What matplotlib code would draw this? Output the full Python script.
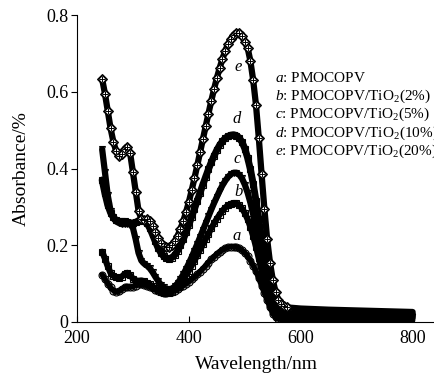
import numpy as np
import matplotlib
matplotlib.use("Agg")
import matplotlib.pyplot as plt

#%% --- Data ---

wavelength = [245, 250, 255, 260, 265, 270, 275, 280, 285, 290, 295, 300, 305, 310,
              315, 320, 325, 330, 335, 340, 345, 350, 355, 360, 365, 370, 375, 380,
              385, 390, 395, 400, 405, 410, 415, 420, 425, 430, 435, 440, 445, 450,
              455, 460, 465, 470, 475, 480, 485, 490, 495, 500, 505, 510, 515, 520,
              525, 530, 535, 540, 545, 550, 555, 560, 565, 570, 575,
              600, 650, 700, 750, 800]

abs_a = [0.123, 0.112, 0.100, 0.090, 0.082, 0.078, 0.080, 0.085, 0.090, 0.092, 0.091, 0.092,
         0.095, 0.098, 0.098, 0.097, 0.095, 0.092, 0.088, 0.084, 0.080, 0.078, 0.076, 0.076,
         0.077, 0.079, 0.082, 0.086, 0.090, 0.095, 0.100, 0.105, 0.111, 0.117, 0.124, 0.131,
         0.139, 0.147, 0.155, 0.163, 0.170, 0.177, 0.183, 0.188, 0.192, 0.195, 0.196, 0.196,
         0.195, 0.192, 0.187, 0.180, 0.172, 0.160, 0.147, 0.132, 0.114, 0.095, 0.075, 0.057,
         0.038, 0.022, 0.012, 0.008, 0.007, 0.006, 0.006,
         0.005, 0.005, 0.005, 0.004, 0.004]

abs_b = [0.183, 0.165, 0.145, 0.128, 0.120, 0.116, 0.115, 0.118, 0.125, 0.128, 0.122, 0.113,
         0.108, 0.107, 0.108, 0.106, 0.102, 0.098, 0.093, 0.088, 0.083, 0.079, 0.076, 0.075,
         0.076, 0.079, 0.085, 0.092, 0.101, 0.111, 0.122, 0.134, 0.147, 0.160, 0.174, 0.188,
         0.202, 0.216, 0.230, 0.244, 0.257, 0.269, 0.280, 0.290, 0.298, 0.304, 0.308, 0.310,
         0.309, 0.304, 0.296, 0.284, 0.268, 0.248, 0.224, 0.196, 0.166, 0.134, 0.102, 0.072,
         0.046, 0.028, 0.018, 0.014, 0.013, 0.012, 0.012,
         0.012, 0.011, 0.011, 0.010, 0.010]

abs_c = [0.450, 0.390, 0.330, 0.290, 0.270, 0.262, 0.258, 0.255, 0.255, 0.256, 0.255, 0.245,
         0.215, 0.180, 0.160, 0.152, 0.147, 0.140, 0.130, 0.118, 0.107, 0.097, 0.090, 0.086,
         0.085, 0.087, 0.093, 0.101, 0.112, 0.124, 0.138, 0.153, 0.169, 0.186, 0.203, 0.221,
         0.239, 0.257, 0.275, 0.293, 0.310, 0.326, 0.342, 0.356, 0.368, 0.378, 0.385, 0.389,
         0.389, 0.384, 0.374, 0.358, 0.337, 0.311, 0.280, 0.244, 0.205, 0.165, 0.125, 0.088,
         0.058, 0.037, 0.025, 0.020, 0.018, 0.017, 0.017,
         0.016, 0.016, 0.015, 0.015, 0.014]

abs_d = [0.370, 0.335, 0.305, 0.285, 0.273, 0.265, 0.262, 0.262, 0.262, 0.260, 0.258, 0.258,
         0.260, 0.264, 0.266, 0.265, 0.258, 0.245, 0.228, 0.210, 0.193, 0.180, 0.171, 0.166,
         0.165, 0.168, 0.175, 0.186, 0.200, 0.216, 0.234, 0.254, 0.274, 0.295, 0.316, 0.337,
         0.358, 0.378, 0.398, 0.416, 0.433, 0.448, 0.461, 0.471, 0.479, 0.484, 0.487, 0.488,
         0.486, 0.480, 0.469, 0.452, 0.428, 0.398, 0.360, 0.316, 0.268, 0.218, 0.168, 0.122,
         0.084, 0.055, 0.036, 0.027, 0.024, 0.023, 0.022,
         0.021, 0.020, 0.020, 0.019, 0.019]

abs_e = [0.633, 0.595, 0.550, 0.505, 0.470, 0.445, 0.432, 0.438, 0.450, 0.457, 0.440, 0.390,
         0.340, 0.290, 0.268, 0.266, 0.268, 0.262, 0.250, 0.235, 0.220, 0.207, 0.199, 0.195,
         0.196, 0.201, 0.211, 0.225, 0.243, 0.263, 0.287, 0.313, 0.343, 0.375, 0.408, 0.442,
         0.476, 0.510, 0.543, 0.576, 0.607, 0.636, 0.662, 0.686, 0.707, 0.724, 0.738, 0.748,
         0.753, 0.752, 0.745, 0.730, 0.715, 0.680, 0.630, 0.565, 0.480, 0.385, 0.295, 0.215,
         0.155, 0.110, 0.078, 0.057, 0.046, 0.041, 0.038,
         0.035, 0.032, 0.030, 0.028, 0.026]

curve_letters = ["a", "b", "c", "d", "e"]
legend_labels = [r"$\it{a}$: PMOCOPV",
                 r"$\it{b}$: PMOCOPV/TiO$_2$(2%)",
                 r"$\it{c}$: PMOCOPV/TiO$_2$(5%)",
                 r"$\it{d}$: PMOCOPV/TiO$_2$(10%)",
                 r"$\it{e}$: PMOCOPV/TiO$_2$(20%)"]

x_ticks = [200, 400, 600, 800]
y_ticks = [0, 0.2, 0.4, 0.6, 0.8]
y_tick_labels = ["0", "0.2", "0.4", "0.6", "0.8"]

#%% --- Style ---

plt.rcParams["font.family"] = ["Liberation Serif", "DejaVu Serif"]
plt.rcParams["mathtext.fontset"] = "custom"
plt.rcParams["mathtext.rm"] = "Liberation Serif"
plt.rcParams["mathtext.it"] = "Liberation Serif:italic"

n_dense = 67  # markers only on the densely sampled part

#%% --- Figure ---

fig = plt.figure(figsize=(4.35, 3.77), dpi=100)
ax_1 = fig.add_axes([0.177, 0.146, 0.823, 0.814])

series = [abs_a, abs_b, abs_c, abs_d, abs_e]
markers = ["o", "s", "v", "s", "D"]
widths = [4.0, 4.5, 4.5, 5.0, 4.5]

for values, mk, w in zip(series, markers, widths):
    ax_1.plot(wavelength, values, color="black", lw=w,
              marker=mk, markersize=5, markerfacecolor="none",
              markeredgecolor="black", markeredgewidth=0.8,
              markevery=slice(0, n_dense), solid_capstyle="round")

# diamonds with crosses for curve e
ax_1.plot(wavelength[:n_dense], abs_e[:n_dense], ls="none", marker="D",
          markersize=4.5, markerfacecolor="white", markeredgecolor="black",
          markeredgewidth=0.8)
ax_1.plot(wavelength[:n_dense], abs_e[:n_dense], ls="none", marker="+",
          markersize=4.5, color="black", markeredgewidth=0.7)

# curve letters above the peaks
letter_pos = [(486, 0.225), (488, 0.34), (486, 0.425), (486, 0.53), (488, 0.665)]
for letter, (lx, ly) in zip(curve_letters, letter_pos):
    ax_1.text(lx, ly, letter, fontsize=12, style="italic", ha="center", va="center")

# legend as plain text lines (cut by the figure edge as in the original)
for i, lab in enumerate(legend_labels):
    ax_1.text(0.553, 0.795 - i * 0.06, lab, transform=ax_1.transAxes,
              fontsize=11, ha="left", va="center", clip_on=False)

# --- Spine and ticks ---
ax_1.set_xlim(200, 840)
ax_1.set_ylim(0, 0.8)
ax_1.spines["top"].set_visible(False)
ax_1.spines["right"].set_visible(False)
ax_1.set_xticks(x_ticks)
ax_1.set_yticks(y_ticks)
ax_1.set_yticklabels(y_tick_labels)
ax_1.tick_params(axis="x", direction="in", length=4, labelsize=13, pad=6)
ax_1.tick_params(axis="y", direction="out", length=4, labelsize=13, pad=2)

ax_1.set_xlabel("Wavelength/nm", fontsize=14, labelpad=6)
ax_1.set_ylabel("Absorbance/%", fontsize=14, labelpad=12)

plt.savefig("out.png", dpi=100)
